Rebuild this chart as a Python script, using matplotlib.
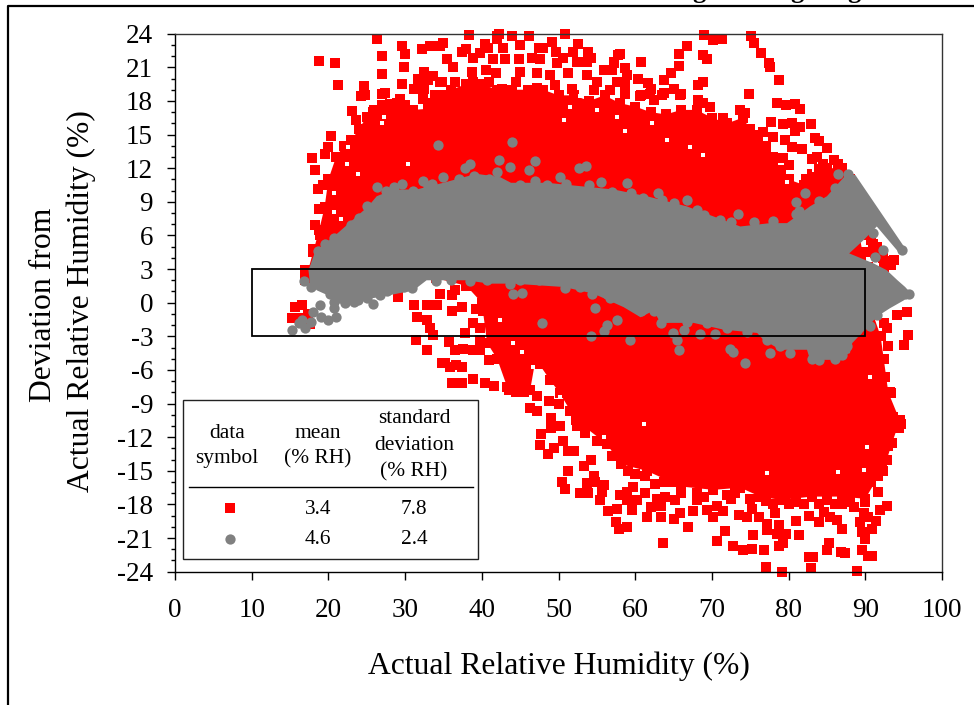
import numpy as np
import matplotlib
matplotlib.use("Agg")
import matplotlib.pyplot as plt
from matplotlib.patches import Rectangle

plt.rcParams['font.family'] = ['Liberation Serif', 'DejaVu Serif']

RED = '#ff0000'
GRAY = '#808080'

x_ticks = [0, 10, 20, 30, 40, 50, 60, 70, 80, 90, 100]
y_ticks = list(range(-24, 25, 3))
spec_band = [10, 90, -3, 3]

legend_rows = [('3.4', '7.8'), ('4.6', '2.4')]

# dense part of the red cloud, outline
red_core = np.array([
    (17, 2), (18, 4.5), (18.8, 6.5), (19.5, 8.5), (20, 11), (21, 13), (22, 14), (23, 14.5), (24, 15.5),
    (25, 16.6), (26, 17.2), (27, 17.6), (29, 17.8), (31, 17.2), (33, 17.3), (34, 18), (36, 19), (38, 19.5),
    (40, 19.5), (42, 19), (44, 19), (46, 19), (48, 19), (50, 18.5), (52, 18.5), (54, 18), (56, 18.5),
    (58, 17.8), (60, 17.5), (62, 17), (64, 16.8), (66, 17.2), (68, 17.2), (70, 16.5), (72, 16), (74, 16.5),
    (75, 15.5), (76, 14.5), (77, 13.5), (78, 12.5), (80, 11), (82, 10.5), (83, 11.5), (85, 12), (87, 12),
    (88, 11), (90, 3), (91, -1), (92, -3), (92.4, -5), (93, -8), (94.5, -10.5), (93.5, -12.5), (92.8, -14),
    (91.7, -15.5), (90, -17.5), (87, -17.3), (83, -17.3), (79, -17.6), (76.3, -17.3), (73.7, -16.5),
    (70.2, -16.7), (66, -16.4), (61.5, -15), (58.1, -14.4), (56.3, -12.6), (52.3, -10.5), (50.2, -8.1),
    (48.9, -6.9), (47.5, -5.5), (47, -5.1), (46.3, -7.8), (43.3, -7.5), (42, -5), (40.7, -3.6), (40, 0),
    (38, 1.5), (34, 2.2), (20, 2.2),
])

# small white gaps left inside the red cloud
red_gaps = np.array([
    (22.4, 12.4), (23.9, 11.5), (20.7, 9.8), (22.6, 13.9), (20.7, 8.1), (21.7, 7.5), (27.2, 16.6), (30.4, 12.4),
    (27, 16), (51.5, 17.5), (50.7, 16.3), (52.8, 18.4), (55, 17.2), (57.6, 16.6), (62.2, 16), (64.1, 14.5),
    (67.2, 13.9), (68.9, 13.2), (79.8, 10.8), (58.7, 15.3), (83.3, 11.8), (46.7, -5.7), (47.2, -7), (50.2, -8.4),
    (61.1, -10.8), (55.9, -12), (77.2, -15.2), (90.2, -12.9), (90.6, -6.6), (89.8, -14.9), (86.5, -15.1),
    (42.4, -1.5), (44.1, -3.6), (45.2, -4.4),
])

# single red points above the cloud
red_upper = np.array([
    (18.8, 21.6), (20.8, 21.4), (21.3, 19.4), (26.4, 23.5), (27.0, 22.0), (27.0, 20.4), (29.6, 22.9), (30.0, 22.2),
    (29.9, 21.0), (29.6, 19.5), (24.6, 19.3), (24.2, 18.4), (24.8, 18.5), (27.0, 18.6), (27.4, 18.7), (29.3, 18.2),
    (32.2, 22.6), (33.3, 22.9), (34.5, 22.9), (34.9, 23.2), (35.5, 21.7), (36.3, 21.0), (37.4, 22.4), (37.9, 22.6),
    (38.3, 23.9), (40.4, 23.1), (42.0, 23.8), (39.8, 22.3), (38.9, 21.8), (41.5, 21.7), (31.7, 20.0), (32.4, 20.6),
    (33.0, 19.9), (33.6, 20.2), (34.6, 19.7), (31.2, 19.1), (32.4, 19.1), (32.3, 18.2), (33.9, 18.5), (23.1, 17.1),
    (23.6, 16.3), (17.8, 12.9), (18.3, 11.8), (18.7, 10.1), (19.3, 10.5), (18.8, 8.4), (18.3, 6.9), (18.9, 6.0),
    (18.0, 4.8), (17.0, 2.9), (20.3, 14.9), (20.0, 13.9), (19.6, 13.3),
    (42.2, 24), (42, 23.5), (43.9, 23.8), (46.1, 23.8), (50.9, 24), (49.2, 23.3), (52.6, 23.1), (49.7, 22.4),
    (53.9, 22.4), (54.3, 21.8), (53.7, 21.5), (40.8, 22.7), (42.8, 22.7), (43, 21.7), (45, 23), (44.8, 21.7),
    (46.5, 21.8), (47.4, 22.7), (48, 22.7), (47.6, 21.7), (50.6, 21.8), (51.9, 22.4), (52.4, 21.5), (49.8, 21.4),
    (57.2, 21.4), (57.8, 22.1), (55.9, 20.8), (57, 20.8), (38.7, 20.6), (40.6, 20.8), (41.9, 20.5), (45, 20.6),
    (47.2, 20.5), (48.9, 20.3), (51.3, 20.5), (53.7, 20.3), (55, 19.7), (57.6, 19.7), (56.7, 19), (36.5, 19.7),
    (34.8, 19.7), (40.9, 19.7), (44.5, 19.7), (47.2, 19.2), (49.6, 19.4), (51.7, 19.1), (54.6, 19), (42.6, 19.1),
    (38.9, 19.7), (58.7, 20.9), (58.9, 20.3), (60.3, 20.0), (61.7, 19.6), (58.7, 19.5), (60.8, 21.5), (58.0, 22.2),
    (57.3, 21.5), (66.7, 22.9), (65.7, 22.2), (65.7, 21.1), (64.7, 20.5), (63.8, 19.9), (69.0, 23.9), (70.2, 23.4),
    (71.3, 23.5), (68.8, 22.1), (69.3, 21.7), (68.8, 19.7), (68.2, 19.4), (75.1, 23.8), (75.5, 23.2), (76.4, 22.3),
    (77.4, 21.4), (77.6, 21.0), (78.8, 19.9), (65.1, 19.1), (65.9, 18.5), (63.5, 18.5), (60.7, 18.5), (62.0, 19.1),
    (62.4, 18.1), (74.8, 18.6), (78.5, 17.8), (79.7, 17.6), (80.8, 17.7), (81.5, 17.3), (58.7, 18.6), (60.6, 18.4),
    (61.9, 18.6), (63.7, 18.7), (66, 18.6), (68.2, 18.1), (68.9, 17.8), (69.7, 17.5), (73.7, 17.2), (74.3, 16.9),
    (71.5, 16.5), (77.7, 16.1), (76.7, 15.2), (79.3, 15.9), (80.4, 16), (81.5, 15.7), (82.9, 15.9), (80.8, 15.3),
    (78, 14.8), (79.5, 14.5), (80.5, 13.9), (81.7, 13.7), (83.4, 14.7), (84, 14.4), (79.3, 12.9), (80, 12.3),
    (83, 12.8), (83.7, 13), (75.4, 14.5), (74.3, 15.1), (82.3, 11), (84, 11.9), (85, 13.8), (85.9, 12.7),
    (90.7, 5.6), (91.5, 5), (93.7, 3.8), (92.4, 3.2), (91.3, 4.4), (90.5, 6), (91, 5.2), (91, 4.8), (92.5, 3.7),
    (93.3, 3.4), (90, 4.5), (92.3, 4), (89.5, 4), (90.4, 3.2), (84.5, 12.4), (86.5, 12.4),
    (25.8, 17), (28, 17.7), (30, 17.6), (33, 17.8), (35, 18.5), (76, 15), (77, 14), (78, 13), (79, 11.8),
])

# single red points below the cloud
red_lower = np.array([
    (15.2, -1.4), (15.7, -0.4), (16.5, -0.2), (16.3, -1.4), (17.6, -1.9), (17.4, -1), (29.1, 0.5), (34.6, 0.8),
    (36.1, 0.7), (36.5, 1.1), (31.1, -0.2), (32.8, -0.2), (34.1, -0.2), (36.1, -0.7), (37.4, -0.4), (39.3, -0.6),
    (31.5, -1.3), (32.8, -1.5), (33.3, -2.3), (33.7, -2.9), (35.7, -3.5), (31.4, -3.3), (32.8, -4.2), (37.6, -4.1),
    (38.9, -4.2), (37.8, -2.7), (38.9, -1.8), (39.8, -2.3), (40.9, -5.1), (41.5, -3.6), (34.8, -5.4), (35.9, -5.7),
    (37.4, -5.7), (36.1, -7.2), (37.4, -7.2), (38.9, -6.8), (40.4, -7.2), (41.6, -7.4), (36.5, -4.2), (39.8, -4.2),
    (39.8, -3.3), (40.2, -0.7), (41.1, -1.0), (35.2, -5.4), (36.7, -5.6),
    (47.2, -8.3), (46.3, -9.4), (47.2, -9.7), (48.7, -8.8), (49, -10.3), (49, -11.2), (50.2, -11), (47.7, -11.7),
    (47.6, -12.7), (48.6, -13.5), (49.4, -13), (50.6, -12.3), (51.3, -13.2), (52, -13.2), (52.4, -11), (53.7, -11),
    (54.2, -14), (53.3, -14.6), (51.3, -15), (50.4, -16), (50.9, -16.6), (54.6, -15.5), (53.7, -16.1), (54.8, -16),
    (55.9, -16.3), (52.8, -17), (53.9, -17), (55.7, -16.9), (55.4, -17.6), (56.4, -18.6), (57.6, -18.4), (58, -17.2),
    (58.9, -16.9), (59.7, -16.4), (59.6, -18.5), (58.9, -17.6), (60.2, -17.6), (61.3, -17), (61.3, -15.5), (62, -18.2),
    (61.5, -19.1), (57.5, -19.6), (57.9, -20.2), (58.9, -20), (62.6, -16.2), (63.7, -16), (65, -16), (62.8, -17.5),
    (63.9, -17.3), (65.2, -17.6), (63.3, -18.1), (65.9, -18.8), (63.3, -19.1), (65, -19.3), (63.6, -21.4), (66.9, -20),
    (67.5, -18.6), (68.1, -17.6), (69.4, -18.5), (70.2, -19.1), (71.5, -18.6), (70.7, -18.1), (72.5, -17.5), (71.7, -20.4),
    (70.7, -21.3), (72.7, -21.7), (74.1, -22.1), (75.2, -22), (76.8, -22.1), (75.4, -20.7), (73.5, -18.9), (74.6, -19.1),
    (75.2, -18.4), (76.1, -19.1), (77.2, -19.7), (77.1, -17.7), (78.2, -18.8), (78.7, -19.8), (77.2, -20.3), (78.5, -20.6),
    (79.6, -20.6), (78.7, -21.7), (79.3, -21.4), (77.1, -23.6), (79.1, -24), (80.9, -19.5), (81.3, -20.7), (82.6, -19),
    (84, -19.6), (82.6, -22.7), (83.2, -22.7), (82.9, -23.7), (85.3, -21.4), (85, -22.1), (86.8, -22.2), (87.3, -22.3),
    (88.9, -23.9), (89.6, -22.1), (90.4, -22.6), (90.9, -22.6), (89.9, -21.1), (89.6, -20.5), (90.9, -20.2), (91.4, -19.5),
    (89.3, -19.6), (87, -20.2), (86.3, -19.4), (85.4, -19.1), (84.6, -18.7), (91.7, -16.9), (92.8, -18.1), (91.9, -18.5),
    (88.5, -18.2), (89.8, -18.8), (90.4, -19.1), (93.3, -8.1), (92.6, -6.6), (94.6, -10.8), (92.9, -12.8), (92.2, -14.6),
    (95.6, -2.9), (95.1, -3.8), (95.4, -0.8), (94.1, -1.1), (92.8, -2.3), (93.0, -3.9), (92.4, -1.8), (82, -18), (80, -18),
    (86, -18), (88, -17.8), (90, -17.8), (84, -18), (73, -17), (68, -17), (66, -17),
    (92.4, -6.6), (93.2, -8), (92.5, -9.3), (93.6, -10.2), (94.4, -11.2), (92.7, -12), (92.3, -15), (91.5, -15.4),
    (90.7, -16), (59, -15), (60, -15.3), (57, -13.7), (55, -12.3), (53.5, -11.6), (51.5, -9.7), (50, -9), (44.5, -8),
    (43.5, -7.8), (45.5, -8), (69, -17.3), (72, -17.2), (75, -17.5), (78, -18), (81, -17.8), (85, -17.6), (87, -18),
])

# solid part of the gray band
gray_core = np.array([
    (17.4, 2.9), (18.3, 4.6), (20.7, 5.9), (23.7, 7.7), (25.2, 8.6), (26.3, 9.5), (28.5, 10.1), (31.5, 10.1),
    (35, 10.7), (39.3, 11.5), (42.4, 11.2), (43.8, 10.7), (48.5, 10.7), (52.8, 10.4), (57.2, 10.1), (61.5, 9.5),
    (66.7, 8.6), (70.2, 7.7), (73.7, 6.8), (77.6, 7.1), (79.8, 7.1), (82.8, 8.6), (85, 9.5), (87.6, 11.5), (88.7, 11.4),
    (95.2, 4.85), (94.6, 4.3), (91.5, 6.8), (89.8, 5.6), (87.9, 4.4), (91.1, 3.5), (92.8, 2.9), (94.2, 2), (95.2, 1.4),
    (96, 0.8), (95, 0.2), (93.2, -0.5), (91.5, -1.25), (90.4, -2.1), (88.3, -3.6), (88, -4.5), (85.9, -5.1), (82.8, -5.1),
    (82.4, -4.2), (78.9, -4.2), (76.7, -3.3), (75.9, -2.7), (71.5, -2.4), (67.6, -1.8), (63.3, -1.8), (62.4, -0.7),
    (60.7, -1.3), (58.5, -0.4), (54.6, 0.8), (50.7, 1.4), (44.1, 1.7), (41, 1.7), (38, 2), (32.8, 2),
    (31.1, 1.1), (26.7, 0.5), (23.7, 0.2), (21.5, -0.1), (19.8, 0.7), (18.5, 1.1), (17.6, 1.7),
])

# single gray points around the band
gray_points = np.array([
    (34.3, 14.1), (26.4, 10.3), (38.5, 12.4), (42.2, 12.7), (42, 11.7), (37.8, 12), (32.3, 10.9), (33.5, 10.6),
    (35, 11.2), (29.6, 10.6), (28.5, 10.3), (44, 14.3), (43.7, 12.1), (47, 12.6), (46.1, 11.8), (53.6, 12.2),
    (52.7, 12), (50.2, 11.2), (58.9, 10.7), (55.6, 10.8), (63, 9.8), (66.7, 9.2), (73.4, 7.9), (82.1, 9.8), (80.9, 9),
    (81.4, 8.2), (86.5, 11.5), (87.8, 11.5), (94.8, 4.7), (91, 6.2), (92.3, 4.7), (91.3, 4.1), (95.2, 0.8), (95.7, 0.8),
    (44.1, 0.8), (45.3, 0.9), (54.8, -0.5), (54.4, 0.8), (56.7, 0.4), (50.9, 1.3), (47.8, -1.8), (57.6, -1.5), (56.3, -2),
    (55.9, -2.5), (54.3, -3), (59.3, -3.3), (63.3, -1.8), (64.9, -2.7), (65.7, -4.2), (66.4, -2.4), (65.4, -3.3), (68.5, -2.8),
    (70.4, -2.8), (72.4, -4.1), (72.8, -4.4), (74.3, -5.4), (77.6, -4.5), (80.2, -4.5), (83, -5), (83.9, -5.1), (86, -5),
    (86.9, -4.7), (90.6, -2.1), (91.5, -1.1), (15.3, -2.4), (17, -2.3), (16.2, -1.8), (16.6, -1.5), (17.7, -1.7), (18, -0.8),
    (19.1, -1.3), (20, -1.5), (21, -1.3), (20.7, -0.5), (18.9, -0.2), (25.8, -0.1), (23.9, 0.2), (22.2, 0), (20.7, 0.1),
    (16.8, 1.9), (17.7, 1.4), (25, 8.6), (24, 7.6), (23, 6.9), (20.7, 5.8), (19.5, 5.2), (18.6, 4.6), (27.5, 10), (31, 10),
    (39, 11.3), (41, 11), (45, 10.5), (48.5, 10.5), (57, 9.9), (61, 9.3), (69, 7.8), (71, 7.4), (75.5, 7.2), (78, 7.3),
    (84, 9.1), (40.7, 2), (43.7, 1.7), (45, 2), (47.4, 2), (49.3, 2.1), (52.8, 1.4), (56.3, 0.8), (58.5, 0.2), (60.7, -0.7),
    (62.4, -0.7), (64.1, -1.3), (66.7, -1.7), (69.3, -1.8), (72, -2.3), (74.6, -2.6), (77.2, -3.3), (78.9, -3.9), (81.5, -3.6),
    (83.3, -4.2), (85.9, -4.5), (87.6, -3.9), (88.9, -2.4), (26.7, 0.7), (25, 0.4), (23.3, 0.1), (20.2, 0.8), (30.9, 1.3),
    (29.8, 1.4), (27.6, 1), (36, 2), (34, 1.9), (38.5, 1.9), (47, 10.9), (51, 10.6), (54, 10.5), (59.5, 9.8), (63.5, 9.2),
    (65, 8.9), (68, 8.3), (72.5, 7.2), (81, 7.9), (86, 10.2), (33, 10.4), (37, 11),
])

fig = plt.figure(figsize=(9.74, 7.05), dpi=100)
ax = fig.add_axes([175 / 974, 1 - 571.7 / 705, 767 / 974, 538 / 705])

ax.fill(red_core[:, 0], red_core[:, 1], color=RED, lw=0, zorder=2)
ax.scatter(red_core[:, 0], red_core[:, 1], s=46, marker='s', c=RED, linewidths=0, zorder=2)
ax.scatter(red_gaps[:, 0], red_gaps[:, 1], s=7, marker='s', c='white', linewidths=0, zorder=2.1)
ax.scatter(red_upper[:, 0], red_upper[:, 1], s=46, marker='s', c=RED, linewidths=0, zorder=2.2, clip_on=False)
ax.scatter(red_lower[:, 0], red_lower[:, 1], s=46, marker='s', c=RED, linewidths=0, zorder=2.2, clip_on=False)
ax.fill(gray_core[:, 0], gray_core[:, 1], color=GRAY, lw=0, zorder=3)
ax.scatter(gray_points[:, 0], gray_points[:, 1], s=55, marker='o', c=GRAY, linewidths=0, zorder=3)

ax.add_patch(Rectangle((spec_band[0], spec_band[2]), spec_band[1] - spec_band[0], spec_band[3] - spec_band[2],
                       fill=False, ec='black', lw=1.3, zorder=4))

ax.set_xlim(0, 100)
ax.set_ylim(-24, 24)
ax.set_xticks(x_ticks)
ax.set_yticks(y_ticks)
ax.set_yticklabels([str(v) for v in y_ticks])
ax.set_yticks(range(-24, 25), minor=True)
ax.tick_params(axis='both', which='major', length=5.8, width=1, labelsize=19.5)
ax.tick_params(axis='x', which='major', pad=13)
ax.tick_params(axis='y', which='major', pad=10)
ax.tick_params(axis='y', which='minor', length=3.2, width=1)
ax.spines['top'].set_color('#333333')
ax.spines['right'].set_color('#333333')
for s in ax.spines.values():
    s.set_linewidth(1)
    s.set_zorder(5)

# page frame, legend box and axis titles sit in pixel coordinates
over = fig.add_axes([0, 0, 1, 1], zorder=10)
over.set_xlim(0, 974)
over.set_ylim(705, 0)
over.axis('off')
over.patch.set_alpha(0)

over.plot([8, 8, 974], [705, 6, 6], color='black', lw=1.6)
for gx in [699, 797, 854]:
    over.text(gx, -1.7, 'g', fontsize=19, fontweight='bold', ha='center', va='baseline')

over.add_patch(Rectangle((183, 399.5), 295, 159.5, fc='white', ec='#222222', lw=1))
over.plot([189, 473], [486.7, 486.7], color='black', lw=1)

leg_size = 15.4
for tx, ty, s in [(226.7, 433, 'data'), (226.7, 458.5, 'symbol'), (318, 433, 'mean'), (318, 458.5, '(% RH)'),
                  (414, 418.5, 'standard'), (414, 445.5, 'deviation'), (414, 471.5, '(% RH)')]:
    over.text(tx, ty, s, fontsize=leg_size, ha='center', va='center')
for row_y, (m, sd) in zip([510, 539], legend_rows):
    over.text(318, row_y, m, fontsize=leg_size, ha='center', va='center')
    over.text(414, row_y, sd, fontsize=leg_size, ha='center', va='center')
over.plot([229.7], [507.7], marker='s', ms=6.6, color=RED, mew=0)
over.plot([229.7], [538.7], marker='o', ms=7.4, color=GRAY, mew=0)

over.text(558.5, 666, 'Actual Relative Humidity (%)', fontsize=22.8, ha='center', va='center')
over.text(44, 305, 'Deviation from', fontsize=22.8, rotation=90, ha='center', va='center')
over.text(81.5, 301, 'Actual Relative Humidity (%)', fontsize=22.8, rotation=90, ha='center', va='center')

fig.savefig('out.png', dpi=100)
